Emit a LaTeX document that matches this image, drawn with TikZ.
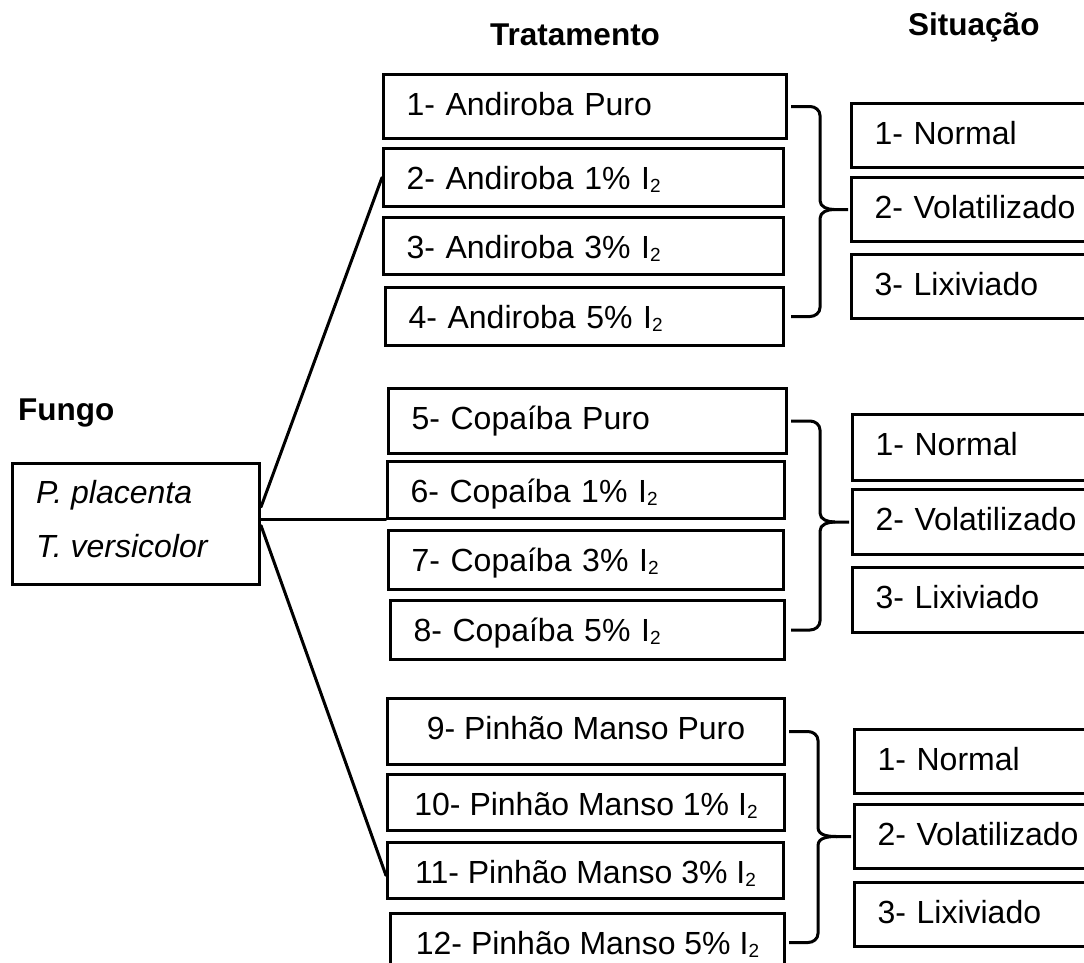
\documentclass[tikz,border=0pt]{standalone}
\usepackage{fontspec}
\setmainfont{Liberation Sans}
\usetikzlibrary{calc}
\newcommand\Isub{I\raisebox{-3pt}{\fontsize{19}{19}\selectfont 2}}
\tikzset{
  boxline/.style={draw=black, line width=3pt},
  tbox/.style={boxline, anchor=north west, inner xsep=23pt, inner ysep=0pt,
    text height=41pt, font=\fontsize{32}{38}\selectfont},
  cbox/.style={boxline, anchor=north west, inner xsep=0pt, inner ysep=0pt,
    text height=41pt, font=\fontsize{32}{38}\selectfont},
  head/.style={anchor=base west, inner sep=0pt, font=\fontsize{31.5}{38}\selectfont\bfseries},
  conn/.style={line width=3pt, line cap=round},
  bracestyle/.style={line width=3pt, line join=round},
}
% #1 top box, #2 bottom box, #3 target box
\newcommand\mybrace[3]{%
  \coordinate (#1bv) at ($(#1.east)+(32,0)$);
  \coordinate (#1bt) at ($(#3.west)+(0,-9)$);
  \coordinate (#1bb) at ($(#3.west)+(0,9)$);
  \coordinate (#1bl) at ($(#2.east)+(0,-9)$);
  \coordinate (#1bs) at ($(#1.east)+(3,0)$);
  \coordinate (#1bh) at ($(#1.east)+(22,0)$);
  \draw[bracestyle] (#1bs) -- (#1bh)
    to[out=0,in=90] ($(#1.east)+(32,9)$)
    -- (#1bv |- #1bt)
    to[out=-90,in=180] ($(#3.west)+(-16,0)$) -- ($(#3.west)+(-2,0)$);
  \draw[bracestyle] (#1bs |- #2.east) -- (#1bh |- #2.east)
    to[out=0,in=-90] (#1bv |- #1bl)
    -- (#1bv |- #1bb)
    to[out=90,in=180] ($(#3.west)+(-16,0)$);
}
\begin{document}
\begin{tikzpicture}[x=1pt,y=-1pt]
\useasboundingbox (0,0) rectangle (1084,962);
\clip (0,0) rectangle (1084,962);
\fill[white] (0,0) rectangle (1084,962);

% headers
\node[head] (hf) at (18,420) {Fungo};
\node[head] (ht) at (490,45) {Tratamento};
\node[head] (hs) at (908,35) {Situação};

% fungo box
\node[boxline, anchor=north west, minimum width=247pt, minimum height=121pt, inner sep=0pt] (fungo) at (11,462) {};
\node[anchor=base west, inner sep=0pt, font=\fontsize{32}{38}\selectfont\itshape] (f1) at (36,503) {P. placenta};
\node[anchor=base west, inner sep=0pt, font=\fontsize{32}{38}\selectfont\itshape] (f2) at (36,557) {T. versicolor};

% group 1
\node[tbox, text width=357pt, text depth=23pt, align=left] (b1) at (382,73) {1- Andiroba Puro};
\node[tbox, text width=354pt, text depth=17pt, align=left] (b2) at (382,147) {2- Andiroba 1\% \Isub};
\node[tbox, text width=354pt, text depth=16pt, align=left] (b3) at (382,216) {3- Andiroba 3\% \Isub};
\node[tbox, text width=352pt, text depth=17pt, align=left] (b4) at (384,286) {4- Andiroba 5\% \Isub};

% group 2
\node[tbox, text width=352pt, text depth=24pt, align=left] (b5) at (387,387) {5- Copaíba Puro};
\node[tbox, text width=351pt, text depth=16pt, align=left] (b6) at (386,460) {6- Copaíba 1\% \Isub};
\node[tbox, text width=349pt, text depth=18pt, align=left] (b7) at (387,529) {7- Copaíba 3\% \Isub};
\node[tbox, text width=348pt, text depth=18pt, align=left] (b8) at (389,599) {8- Copaíba 5\% \Isub};

% group 3
\node[cbox, minimum width=397pt, text depth=25pt] (b9) at (386,697) {9- Pinhão Manso Puro};
\node[cbox, minimum width=397pt, text depth=15pt] (b10) at (386,773) {10- Pinhão Manso 1\% \Isub};
\node[cbox, minimum width=396pt, text depth=15pt] (b11) at (386,841) {11- Pinhão Manso 3\% \Isub};
\node[cbox, minimum width=394pt, text depth=17pt] (b12) at (389,912) {12- Pinhão Manso 5\% \Isub};

% situação boxes
\node[tbox, text width=224pt, text depth=23pt, align=left] (s1) at (850,102) {1- Normal};
\node[tbox, text width=224pt, text depth=23pt, align=left] (s2) at (850,176) {2- Volatilizado};
\node[tbox, text width=224pt, text depth=23pt, align=left] (s3) at (850,253) {3- Lixiviado};

\node[tbox, text width=224pt, text depth=25pt, align=left] (t1) at (851,413) {1- Normal};
\node[tbox, text width=224pt, text depth=24pt, align=left] (t2) at (851,488) {2- Volatilizado};
\node[tbox, text width=224pt, text depth=24pt, align=left] (t3) at (851,566) {3- Lixiviado};

\node[tbox, text width=224pt, text depth=23pt, align=left] (u1) at (853,728) {1- Normal};
\node[tbox, text width=224pt, text depth=23pt, align=left] (u2) at (853,803) {2- Volatilizado};
\node[tbox, text width=224pt, text depth=23pt, align=left] (u3) at (853,881) {3- Lixiviado};

% connectors from fungo
\coordinate (fa) at ($(fungo.east)+(0,-17)$);
\coordinate (fb) at ($(fungo.east)+(0,-5)$);
\coordinate (fc) at ($(fungo.east)+(0,1.5)$);
\coordinate (e11) at ($(b11.west)+(0,5)$);
\draw[conn] (fa) -- (b2.west);
\draw[conn] (fb) -- (fb -| b6.west);
\draw[conn] (fc) -- (e11);

% braces
\mybrace{b1}{b4}{s2}
\mybrace{b5}{b8}{t2}
\mybrace{b9}{b12}{u2}
\end{tikzpicture}
\end{document}
